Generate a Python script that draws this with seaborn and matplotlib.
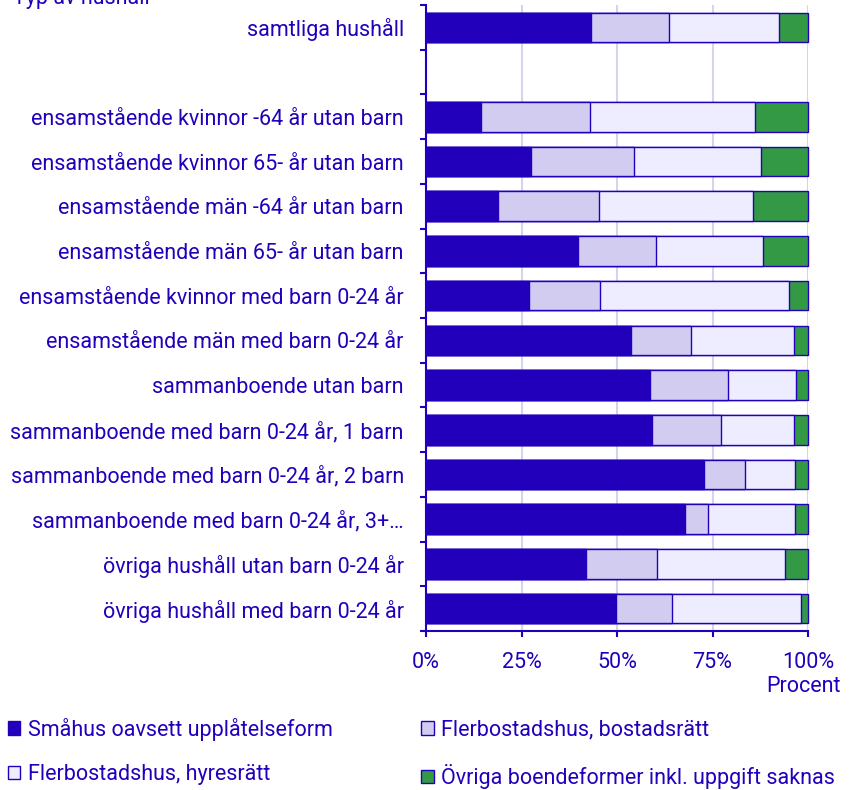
"""Boendeform efter typ av hushåll, procent (staplad liggande stapel)"""
import matplotlib
matplotlib.use("Agg")
import matplotlib.patches as mpatches
import matplotlib.pyplot as plt
import numpy as np
import pandas as pd
import seaborn as sns

sns.set_theme(style="white")
plt.rcParams["font.family"] = ["Roboto", "DejaVu Sans"]

TEXT = "#2200bb"
DARK = "#2200bb"
LIGHT = "#d2ccf0"
PALE = "#ededff"
GREEN = "#339944"
GRID = "#d4d4ee"
FS = 15.5

hushall = [
    "samtliga hushåll",
    "ensamstående kvinnor -64 år utan barn",
    "ensamstående kvinnor 65- år utan barn",
    "ensamstående män -64 år utan barn",
    "ensamstående män 65- år utan barn",
    "ensamstående kvinnor med barn 0-24 år",
    "ensamstående män med barn 0-24 år",
    "sammanboende utan barn",
    "sammanboende med barn 0-24 år, 1 barn",
    "sammanboende med barn 0-24 år, 2 barn",
    "sammanboende med barn 0-24 år, 3+…",
    "övriga hushåll utan barn 0-24 år",
    "övriga hushåll med barn 0-24 år",
]
smahus = [43.1, 14.3, 27.4, 18.8, 39.8, 26.9, 53.7, 58.6, 59.2, 72.8, 67.9, 41.9, 49.8]
bostadsratt = [20.6, 28.6, 27.1, 26.4, 20.4, 18.6, 15.8, 20.5, 17.9, 10.6, 6.0, 18.5, 14.5]
hyresratt = [28.7, 43.2, 33.1, 40.4, 28.1, 49.5, 26.8, 17.8, 19.2, 13.3, 22.8, 33.6, 33.8]
ovriga = [7.6, 13.9, 12.4, 14.4, 11.7, 5.0, 3.7, 3.1, 3.7, 3.3, 3.3, 6.0, 1.9]

serier = [
    "Småhus oavsett upplåtelseform",
    "Flerbostadshus, bostadsrätt",
    "Flerbostadshus, hyresrätt",
    "Övriga boendeformer inkl. uppgift saknas",
]
farger = [DARK, LIGHT, PALE, GREEN]

df = pd.DataFrame({
    "hushall": hushall,
    serier[0]: smahus,
    serier[1]: bostadsratt,
    serier[2]: hyresratt,
    serier[3]: ovriga,
})
cum = df[serier].cumsum(axis=1)
cum["hushall"] = df["hushall"]

# tom rad mellan "samtliga" och resten
order = [hushall[0], " "] + hushall[1:]

fig = plt.figure(figsize=(8.57, 7.9), dpi=100)
ax = fig.add_axes([426 / 857, 1 - 631 / 790, 382 / 857, 626 / 790])

# stapla genom att rita kumulativa summor bakifrån
for serie, farg in reversed(list(zip(serier, farger))):
    sns.barplot(data=cum, x=serie, y="hushall", order=order, orient="h",
                color=farg, edgecolor=DARK, linewidth=1.0, width=0.66,
                errorbar=None, saturation=1, ax=ax)
for p in ax.patches:
    p.set_clip_on(False)

ax.set_xlim(0, 100)
ax.set_xticks([0, 25, 50, 75, 100])
ax.set_xticklabels(["0%", "25%", "50%", "75%", "100%"])
ax.set_xlabel("")
ax.set_ylabel("")
ax.grid(axis="x", color=GRID, linewidth=1.5)
ax.grid(axis="y", visible=False)
ax.set_axisbelow(True)

for side in ["top", "right"]:
    ax.spines[side].set_visible(False)
for side in ["left", "bottom"]:
    ax.spines[side].set_color(DARK)
    ax.spines[side].set_linewidth(1.5)

ax.tick_params(axis="x", colors=DARK, labelcolor=TEXT, labelsize=FS,
               direction="out", length=4, width=1.5, pad=11, bottom=True)
ax.tick_params(axis="y", which="major", length=0, pad=16,
               labelcolor=TEXT, labelsize=FS, left=False)
ax.set_yticks(np.arange(len(order) + 1) - 0.5, minor=True)
ax.tick_params(axis="y", which="minor", colors=DARK, direction="out",
               length=4, width=1.5, left=True)
ax.set_ylim(len(order) - 0.5, -0.5)

fig.text(13 / 857, 1 - 4 / 790, "Typ av hushåll", color=TEXT, fontsize=FS,
         ha="left", va="baseline")
fig.text(841 / 857, 1 - 686 / 790, "Procent", color=TEXT, fontsize=FS,
         ha="right", va="center")

# matplotlib fyller kolumnvis, så ordna om för radvis läsning
handles = [mpatches.Patch(facecolor=f, edgecolor=DARK, linewidth=1.0, label=s)
           for s, f in zip(serier, farger)]
handles = [handles[0], handles[2], handles[1], handles[3]]
fig.legend(handles=handles, loc="upper left", bbox_to_anchor=(0.0, 1 - 710 / 790),
           ncol=2, frameon=False, fontsize=FS, labelcolor=TEXT,
           handlelength=0.6, handleheight=0.6, handletextpad=0.33,
           columnspacing=4.1, labelspacing=1.1, borderaxespad=0.0,
           borderpad=0.35)

fig.savefig("out.png", dpi=100)
